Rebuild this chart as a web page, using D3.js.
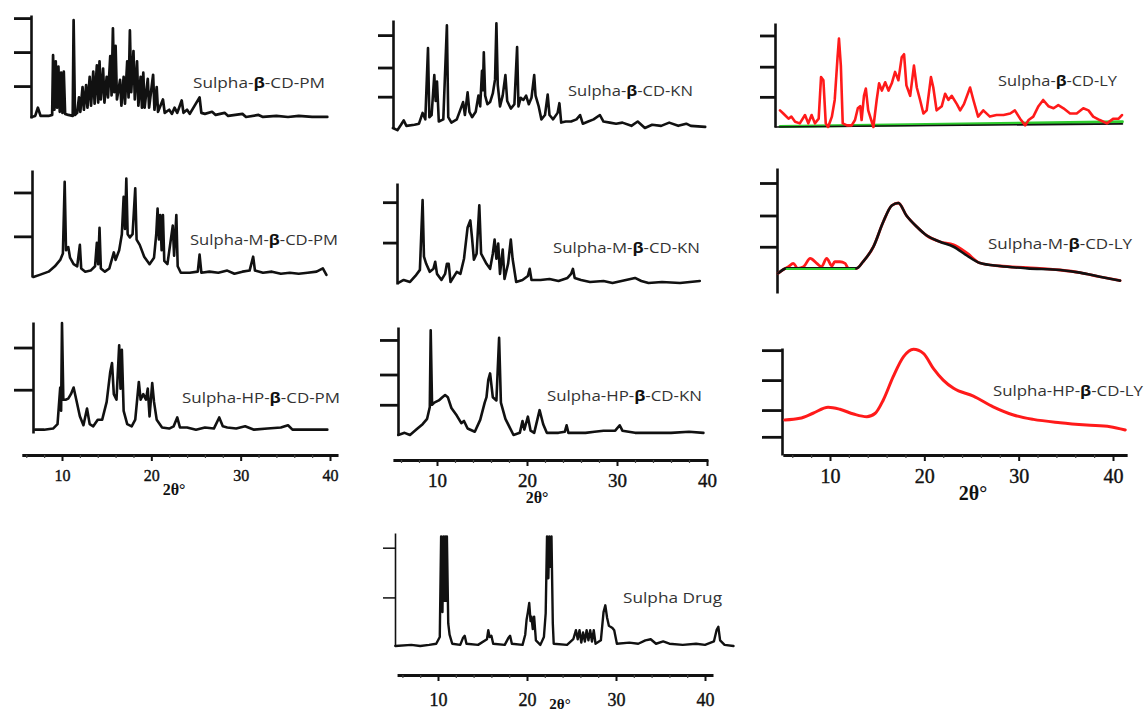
<!DOCTYPE html>
<html><head><meta charset="utf-8">
<script src="https://cdn.jsdelivr.net/npm/d3@7"></script>
<style>body{margin:0;background:#fff}svg{display:block}</style>
</head><body>
<svg id="chart" width="1145" height="712"></svg>
<script>
// ---------------- DATA ----------------
const panelNames = ["Sulpha-β-CD-PM","Sulpha-M-β-CD-PM","Sulpha-HP-β-CD-PM",
  "Sulpha-β-CD-KN","Sulpha-M-β-CD-KN","Sulpha-HP-β-CD-KN",
  "Sulpha-β-CD-LY","Sulpha-M-β-CD-LY","Sulpha-HP-β-CD-LY","Sulpha Drug"];
const xTickValues = [10,20,30,40];
const xTickLabels = ["10","20","30","40"];
const xMinorTicks = [6,8,12,14,16,18,22,24,26,28,32,34,36,38];
const xAxisTitle = "2θ°";
// y tick positions (relative intensity, 0 = baseline, 100 = top of axis)
const yTicks = [[97,64,31],[79,38],[77,39],[86,56,29],[81,41],[88,56,28],[88,58,29],[88,62,37],[98,70,42,17],[87,43]];

const betaPM = [[6.6,1],[7.0,2],[7.3,10],[7.6,2],[8.5,2],[8.9,3],[9.0,61],[9.15,8],[9.3,55],[9.45,10],[9.6,50],[9.75,6],[9.9,44],[10.05,5],[10.2,45],[10.35,4],[10.7,3],[11.2,2],[11.3,95],[11.45,3],[11.7,5],[11.9,20],[12.05,6],[12.3,30],[12.45,8],[12.7,32],[12.85,10],[13.1,40],[13.25,12],[13.5,45],[13.65,14],[13.9,51],[14.05,15],[14.2,55],[14.35,18],[14.6,48],[14.75,15],[15.0,40],[15.15,20],[15.4,60],[15.55,22],[15.7,87],[15.85,25],[16.0,70],[16.15,18],[16.5,37],[16.65,12],[16.9,40],[17.05,14],[17.3,55],[17.45,20],[17.6,85],[17.75,25],[18.0,65],[18.15,18],[18.4,55],[18.55,12],[18.8,40],[18.95,10],[19.1,44],[19.25,10],[19.6,38],[19.75,10],[20.2,42],[20.35,8],[20.6,30],[20.75,6],[21.3,18],[21.5,5],[22.0,8],[22.3,4],[22.6,10],[22.9,5],[23.4,17],[23.6,5],[24.0,8],[24.3,4],[25.4,20],[25.6,5],[26.0,4],[26.8,6],[27.2,3],[28.2,5],[28.6,2],[30.2,4],[30.6,1],[32.0,3],[32.5,1],[34.0,2],[35.3,1],[36.5,2],[38.0,1],[39.7,1]];
const mBetaPM = [[6.8,0],[7.5,2],[8.5,5],[9.2,10],[9.8,16],[10.1,22],[10.3,89],[10.45,25],[10.7,28],[10.9,18],[11.3,12],[11.7,10],[12.0,30],[12.15,8],[12.6,5],[13.2,6],[13.7,10],[13.9,32],[14.05,12],[14.2,46],[14.35,8],[14.8,5],[15.3,8],[15.8,23],[16.0,16],[16.4,25],[16.7,40],[16.9,75],[17.05,45],[17.2,92],[17.35,40],[17.6,37],[17.9,40],[18.2,83],[18.35,35],[18.7,30],[19.2,19],[19.8,12],[20.3,18],[20.55,40],[20.7,64],[20.85,35],[21.0,58],[21.15,25],[21.3,58],[21.45,15],[21.8,12],[22.1,30],[22.4,48],[22.55,20],[22.8,58],[22.95,10],[23.3,4],[24.3,4],[25.2,5],[25.4,21],[25.6,4],[26.5,5],[27.5,4],[28.5,6],[29.3,3],[30.2,5],[31.0,6],[31.4,19],[31.6,6],[32.5,4],[33.5,5],[34.5,3],[35.5,4],[36.5,3],[37.5,4],[38.5,5],[39.2,8],[39.6,2]];
const hpBetaPM = [[7.0,3],[8.0,3],[9.0,4],[9.5,8],[9.8,41],[9.9,20],[10.0,99],[10.15,30],[10.4,30],[10.7,31],[11.0,35],[11.3,41],[11.6,30],[12.0,15],[12.4,7],[12.8,22],[13.1,8],[13.5,6],[14.0,12],[14.5,12],[15.0,28],[15.4,55],[15.6,63],[15.8,35],[16.1,30],[16.4,79],[16.55,40],[16.7,75],[16.9,20],[17.3,8],[17.8,6],[18.2,12],[18.6,46],[18.8,30],[19.1,35],[19.4,30],[19.6,40],[19.8,15],[20.1,45],[20.3,28],[20.6,12],[21.2,5],[22.0,4],[22.5,6],[22.9,14],[23.2,5],[24.0,5],[25.0,3],[26.0,5],[27.0,4],[27.6,14],[28.0,6],[28.5,5],[29.5,4],[30.5,6],[31.5,3],[33.0,4],[34.5,5],[35.3,7],[35.8,3],[37.0,3],[39.7,3]];
const betaKN = [[5.1,0],[5.6,-2],[6.0,3],[6.3,7],[6.6,2],[7.5,3],[8.0,4],[8.4,14],[8.7,8],[9.0,74],[9.15,10],[9.4,12],[9.7,49],[9.85,25],[10.0,43],[10.2,6],[10.7,8],[11.1,95],[11.25,10],[11.6,5],[12.2,8],[12.6,17],[12.9,24],[13.1,12],[13.4,33],[13.6,15],[13.9,10],[14.3,15],[14.6,30],[14.8,20],[15.0,53],[15.1,35],[15.2,70],[15.35,30],[15.6,22],[15.9,24],[16.2,32],[16.45,45],[16.6,97],[16.75,40],[17.0,20],[17.3,30],[17.6,49],[17.8,25],[18.2,18],[18.6,22],[18.9,75],[19.05,20],[19.3,28],[19.6,26],[19.9,30],[20.2,22],[20.5,28],[20.8,49],[20.95,30],[21.3,20],[21.6,8],[22.0,12],[22.3,31],[22.5,12],[22.9,8],[23.4,14],[23.6,23],[23.8,5],[24.3,6],[24.9,6],[25.5,8],[25.9,12],[26.2,4],[26.8,6],[27.4,8],[28.1,12],[28.5,6],[29.2,5],[29.9,4],[30.6,5],[31.6,2],[32.3,6],[33.1,0],[33.9,3],[34.9,2],[35.8,5],[36.8,2],[37.7,4],[38.2,2],[39.8,1]];
const mBetaKN = [[5.7,1],[6.3,4],[7.0,2],[7.6,8],[8.1,14],[8.4,83],[8.55,27],[8.8,20],[9.2,12],[9.6,15],[9.8,22],[10.0,10],[10.5,4],[10.9,10],[11.1,20],[11.3,20],[11.5,2],[12.2,12],[12.6,10],[13.0,25],[13.4,56],[13.7,63],[13.9,45],[14.1,24],[14.4,30],[14.7,78],[14.9,30],[15.5,20],[15.9,15],[16.2,30],[16.4,44],[16.6,25],[16.8,40],[17.0,10],[17.3,34],[17.5,5],[17.9,20],[18.2,44],[18.4,25],[18.8,2],[19.5,4],[20.1,8],[20.3,15],[20.5,4],[21.5,4],[22.5,5],[23.5,3],[24.5,6],[24.9,10],[25.1,15],[25.3,6],[26.0,4],[27.0,2],[28.5,3],[29.5,1],[31.0,4],[32.0,6],[32.7,3],[33.5,1],[35.0,2],[37.0,1],[39.2,3]];
const hpBetaKN = [[5.7,0],[6.4,2],[7.0,0],[7.7,5],[8.4,10],[8.9,15],[9.2,26],[9.3,97],[9.45,28],[9.7,30],[10.2,32],[10.6,35],[10.9,37],[11.2,35],[11.6,25],[12.2,18],[12.7,11],[13.0,13],[13.4,6],[14.2,3],[14.8,14],[15.3,30],[15.5,35],[15.7,51],[15.9,57],[16.2,35],[16.6,32],[16.9,90],[17.1,30],[17.6,15],[18.5,0],[19.2,2],[19.5,13],[19.7,5],[20.1,17],[20.4,4],[20.8,2],[21.4,23],[21.8,10],[22.2,2],[23.5,2],[24.2,3],[24.4,9],[24.6,2],[26.5,2],[27.5,3],[28.5,4],[29.8,4],[30.3,9],[30.6,4],[32.0,2],[34.0,2],[36.0,2],[38.0,3],[39.6,2]];
const betaLY = [[4.7,16],[5.05,13],[5.6,8],[5.9,10],[6.3,5],[6.8,3.5],[7.35,11.5],[7.7,3.5],[8.05,11.5],[8.4,3.5],[8.8,8],[9.05,48],[9.3,45],[9.55,3.5],[9.8,0],[10.2,10],[10.5,26],[10.8,67],[10.95,85],[11.15,59],[11.35,3.5],[11.8,1.6],[12.3,1.6],[12.65,6.7],[12.95,18],[13.2,20],[13.35,6.7],[13.6,30],[13.8,37],[14.05,16],[14.6,0],[14.95,26],[15.2,42],[15.5,35],[15.85,43],[16.2,35],[16.55,42],[16.9,53],[17.25,45],[17.6,67],[17.85,70],[18.1,40],[18.5,30],[18.9,59],[19.2,38],[19.55,26],[19.9,13],[20.25,16],[20.7,48],[20.95,38],[21.3,16],[21.85,20],[22.2,32],[22.55,26],[22.9,30],[23.45,22],[23.8,16],[24.2,22],[24.85,38],[25.2,26],[25.7,10],[26.25,16],[26.95,10],[27.65,11.5],[28.4,11.5],[29.1,13],[29.6,16],[30.15,8],[30.7,1.6],[31.05,6.7],[31.55,10],[32.1,20],[32.6,26],[33.15,20],[33.7,18],[34.2,21],[34.75,18],[35.45,13],[36.15,13],[36.85,18],[37.4,16],[37.9,10],[38.6,6.7],[39.35,3.5],[40.05,8],[40.6,8],[40.95,11.5]];
const betaLYBaseline = [[4.7,0.5],[41,5]];
const betaLYBlack = [[4.2,0],[41,3]];
const mBetaLY = [[4.5,15.7],[5.4,19.7],[7.9,19.7],[12.8,19.7],[13.5,25],[14.6,37],[15.65,57],[16.55,70],[17.25,72],[18.1,62],[19.2,53],[20.25,46],[21.65,41],[23.1,37],[24.5,30],[25.9,24],[28.0,21.6],[30.9,19.7],[34.4,18.4],[36.5,16.3],[38.6,13],[40.75,9.9]];
const mBetaLYRed = [[4.5,15.7],[5.1,19],[5.6,21],[6.1,23.7],[6.6,19.7],[7.2,21],[7.9,27.7],[8.6,23.7],[9.1,21],[9.65,27.7],[10.2,21.6],[10.5,25],[11.05,25],[11.6,23.7],[11.95,19.7],[12.8,19.7],[13.5,25],[14.6,37],[15.65,57],[16.55,70],[17.25,72],[18.1,62],[19.2,53],[20.25,46],[21.65,41],[23.1,38.5],[24.5,32],[25.9,24],[28.0,21.6],[30.9,20.3],[34.4,18.4],[36.5,16.3],[38.6,13],[40.75,9.9]];
const mBetaLYBaseline = [[5.4,19.2],[12.6,19.2]];
const hpBetaLY = [[5.2,32.7],[6.8,34.3],[8.2,39],[9.8,44.6],[11.05,42.7],[12.5,38.3],[13.9,35.8],[14.8,39],[15.65,51.4],[16.7,73.2],[17.8,91.9],[18.85,98.8],[19.9,95],[20.95,81],[22.0,70],[23.1,62.3],[25.2,55],[27.3,45],[29.45,37.4],[31.55,33.3],[34.4,30.2],[37.2,28],[39.7,26.5],[41.3,23.4]];
const drug = [[5.2,0],[7.0,1],[8.0,0],[9.0,1],[9.8,2],[10.2,8],[10.35,97],[10.5,30],[10.6,97],[10.7,40],[10.8,97],[10.9,40],[11.0,97],[11.15,20],[11.3,10],[11.6,2],[12.5,1],[12.8,7],[13.0,9],[13.2,2],[14.5,1],[15.5,6],[15.65,14],[15.8,8],[16.0,9],[16.2,2],[17.5,1],[17.9,7],[18.1,9],[18.3,2],[19.5,1],[19.8,10],[19.95,23],[20.1,30],[20.25,38],[20.4,22],[20.5,26],[20.65,15],[20.8,26],[21.0,5],[21.5,1],[21.9,8],[22.1,29],[22.25,97],[22.4,60],[22.5,97],[22.6,70],[22.75,97],[22.9,20],[23.0,2],[24.5,1],[25.2,6],[25.5,14],[25.7,6],[25.9,14],[26.1,3],[26.3,12],[26.5,4],[26.7,14],[26.9,5],[27.1,14],[27.3,4],[27.5,14],[27.7,2],[28.3,5],[28.6,30],[28.8,36],[29.0,25],[29.2,18],[29.6,16],[29.8,14],[30.1,2],[31.5,3],[32.5,2],[33.3,5],[33.9,6],[34.5,2],[35.3,4],[36.0,2],[37.5,1],[39.0,2],[40.0,1],[41.0,4],[41.3,14],[41.5,17],[41.7,5],[42.2,1],[43.2,0]];

// ---------------- LAYOUT ----------------
const RED = "#ff1a1a", GREEN = "#2ecc2e", BLACK = "#111";
const columns = {
  c1: {r:[62,330], axisY:455, ext:[5.5,40.9], fs:16, labOff:20, title:[174,489,16]},
  c2: {r:[437,707], axisY:460, ext:[5.1,40.1], fs:19, labOff:20, title:[537,497,16]},
  c3: {r:[830,1113], axisY:455, ext:[5.0,41.5], fs:20, labOff:21, title:[973,493,20]},
  c4: {r:[438,705], axisY:675, ext:[5.4,40.9], fs:18, labOff:25, title:[560,704,15]}
};
const panels = [
  {col:"c1", ax:31, base:118, top:15, tl:17, lab:[193,82,132], series:[{d:betaPM,c:BLACK,w:2.7}]},
  {col:"c1", ax:32, base:277, top:170, tl:18, lab:[190,239,148], series:[{d:mBetaPM,c:BLACK,w:2.6}]},
  {col:"c1", ax:33, base:433, top:322, tl:19, lab:[182,397,158], series:[{d:hpBetaPM,c:BLACK,w:2.6}]},
  {col:"c2", ax:393, base:128, top:20, tl:15, lab:[568,90,125], series:[{d:betaKN,c:BLACK,w:2.6}]},
  {col:"c2", ax:397, base:284, top:183, tl:14, lab:[553,247,147], series:[{d:mBetaKN,c:BLACK,w:2.6}]},
  {col:"c2", ax:398, base:435, top:327, tl:18, lab:[547,395,155], series:[{d:hpBetaKN,c:BLACK,w:2.6}]},
  {col:"c3", ax:775, base:127, top:23, tl:15, lab:[998,80,119], series:[
      {d:betaLYBaseline,c:GREEN,w:3},{d:betaLYBlack,c:BLACK,w:1.6},{d:betaLY,c:RED,w:2.6}]},
  {col:"c3", ax:777, base:293, top:168, tl:17, lab:[988,243,144], series:[
      {d:mBetaLYRed,c:RED,w:2.8,smooth:true},{d:mBetaLY,c:BLACK,w:2.6,smooth:true},{d:mBetaLYBaseline,c:GREEN,w:1.8}]},
  {col:"c3", ax:782, base:455, top:348, tl:20, lab:[993,390,150], series:[{d:hpBetaLY,c:RED,w:3,smooth:true}]},
  {col:"c4", ax:395, base:646, top:533, tl:12, lab:[623,597,99], thin:true, series:[{d:drug,c:BLACK,w:2.4}]}
];

const svg = d3.select("#chart");
svg.append("rect").attr("width",1145).attr("height",712).attr("fill","#fff");

// x axes per column
Object.values(columns).forEach(col => {
  const x = d3.scaleLinear().domain([10,40]).range(col.r);
  const xa = d3.scaleLinear().domain(col.ext).range(col.ext.map(x));
  const g = svg.append("g").attr("transform",`translate(0,${col.axisY})`);
  g.call(d3.axisBottom(xa).tickValues(xTickValues).tickFormat((d,i)=>xTickLabels[i]).tickSize(6).tickSizeOuter(0));
  g.select(".domain").attr("stroke","#111").attr("stroke-width",3);
  g.selectAll(".tick line").attr("stroke","#111").attr("stroke-width",2);
  g.selectAll(".tick text").attr("dy",null).attr("y",col.labOff).attr("dominant-baseline","central")
    .attr("font-family","'Liberation Serif','Times New Roman',serif").attr("font-size",col.fs)
    .attr("fill","#111").attr("stroke","#111").attr("stroke-width",0.4);
  const gm = svg.append("g").attr("transform",`translate(0,${col.axisY})`);
  gm.call(d3.axisBottom(xa).tickValues(xMinorTicks).tickFormat("").tickSize(3).tickSizeOuter(0));
  gm.select(".domain").remove();
  gm.selectAll(".tick line").attr("stroke","#444").attr("stroke-width",1.2);
  svg.append("text").attr("x",col.title[0]).attr("y",col.title[1]).attr("text-anchor","middle")
    .attr("dominant-baseline","central").attr("font-family","'Liberation Serif','Times New Roman',serif")
    .attr("font-weight","bold").attr("font-size",col.title[2]).attr("fill","#111").text(xAxisTitle);
});

panels.forEach((p,i) => {
  const col = columns[p.col];
  const x = d3.scaleLinear().domain([10,40]).range(col.r);
  const y = d3.scaleLinear().domain([0,100]).range([p.base,p.top]);
  // y axis
  const g = svg.append("g").attr("transform",`translate(${p.ax},0)`);
  g.call(d3.axisLeft(y).tickValues(yTicks[i]).tickFormat("").tickSize(p.tl).tickSizeOuter(0));
  g.select(".domain").attr("stroke","#111").attr("stroke-width",p.thin?1.6:2.6);
  g.selectAll(".tick line").attr("stroke","#111").attr("stroke-width",p.thin?1.5:2.8);
  // series
  p.series.forEach(s => {
    const line = d3.line().x(d=>x(d[0])).y(d=>y(d[1]))
      .curve(s.smooth ? d3.curveMonotoneX : d3.curveLinear);
    svg.append("path").datum(s.d).attr("d",line).attr("fill","none")
      .attr("stroke",s.c).attr("stroke-width",s.w).attr("stroke-linejoin","round").attr("stroke-linecap","round");
  });
  // label
  const parts = panelNames[i].split("β");
  const t = svg.append("text").attr("x",p.lab[0]).attr("y",p.lab[1]).attr("dominant-baseline","central")
    .attr("font-family","'Open Sans','Noto Sans',sans-serif").attr("font-size",15).attr("fill","#333")
    .attr("textLength",p.lab[2]).attr("lengthAdjust","spacingAndGlyphs");
  t.append("tspan").text(parts[0]);
  if (parts.length > 1) {
    t.append("tspan").attr("font-weight","bold").attr("fill","#111").text("β");
    t.append("tspan").text(parts[1]);
  }
});
</script>
</body></html>
